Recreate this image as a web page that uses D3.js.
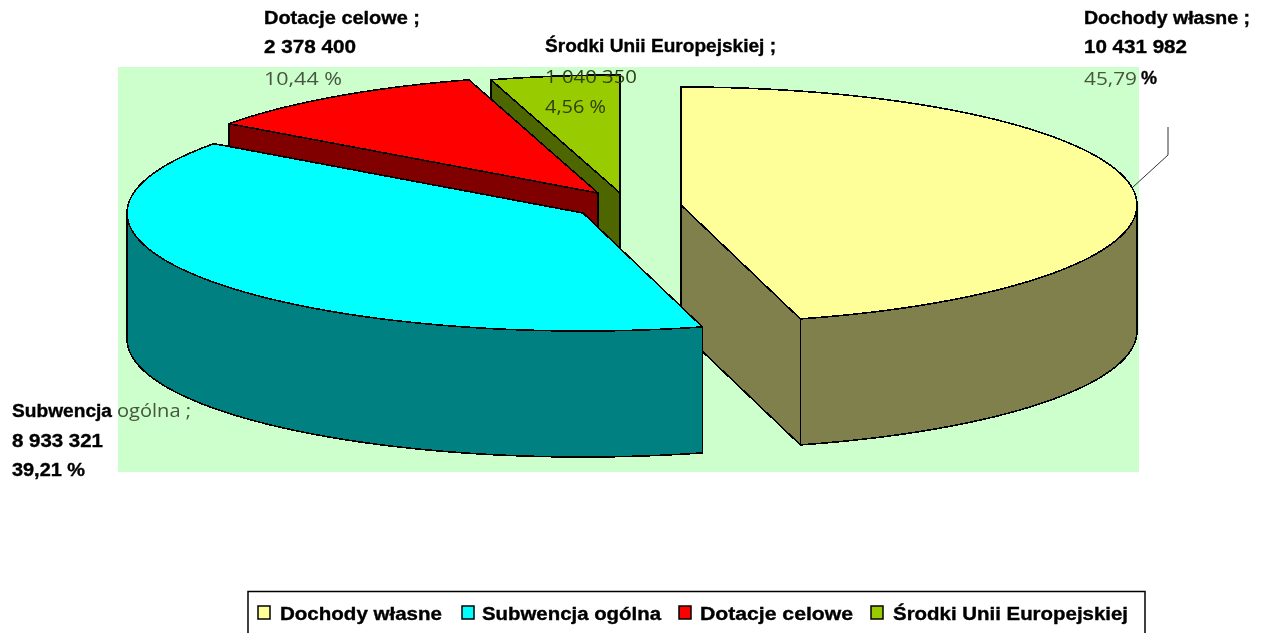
<!DOCTYPE html>
<html>
<head>
<meta charset="utf-8">
<script src="https://cdnjs.cloudflare.com/ajax/libs/d3/7.8.5/d3.min.js"></script>
<style>
html, body { margin: 0; padding: 0; background: #fff; overflow: hidden; }
svg { display: block; }
.heavy { font-family: "Liberation Sans", sans-serif; font-weight: bold; font-size: 18px; fill: #000; stroke: #000; stroke-width: 0.35px; }
.thin { font-family: "Open Sans", sans-serif; font-size: 18px; fill: #46563f; }
.dark { font-family: "Open Sans", sans-serif; font-size: 18px; fill: #2f3f10; }
</style>
</head>
<body>
<div id="chart-area"></div>
<script>
var categories = ["Dochody własne", "Subwencja ogólna", "Dotacje celowe", "Środki Unii Europejskiej"];
var values = [10431982, 8933321, 2378400, 1040350];
var percentLabels = ["45,79", "39,21", "10,44", "4,56"];

var topColors = ["#FFFF99", "#00FFFF", "#FF0000", "#99CC00"];
var sideColors = ["#80804D", "#008080", "#800000", "#4D6600"];
var sliceCenters = [[681, 205], [583, 213], [598, 193], [620, 193]];
var radiusX = 456, radiusY = 118, depth = 126;
var drawOrder = [3, 2, 0, 1];

var numberFormat = d3.formatLocale({ thousands: " ", grouping: [3], decimal: ",", currency: ["", ""] }).format(",d");

var svg = d3.select("#chart-area").append("svg").attr("width", 1264).attr("height", 633);

var defs = svg.append("defs");
defs.append("filter").attr("id", "soft").append("feGaussianBlur").attr("stdDeviation", 0.45);

var chart = svg.append("g").attr("filter", "url(#soft)");

chart.append("rect").attr("x", 118).attr("y", 67).attr("width", 1021).attr("height", 405).attr("fill", "#CCFFCC");

var pie = d3.pie().sort(null).startAngle(0).endAngle(2 * Math.PI);
var slices = pie(values);
var line = d3.line();

function rimPoint(center, angle, drop) {
    return [center[0] + radiusX * Math.sin(angle), center[1] - radiusY * Math.cos(angle) + drop];
}

function rim(center, a0, a1, drop) {
    return d3.range(0, 121).map(i => rimPoint(center, a0 + (a1 - a0) * i / 120, drop));
}

function drawFace(points, fill) {
    chart.append("path")
        .attr("d", line(points) + "Z")
        .attr("fill", fill)
        .attr("stroke", "#000")
        .attr("stroke-width", 1.6)
        .attr("stroke-linejoin", "round")
        .attr("shape-rendering", "crispEdges");
}

drawOrder.forEach(i => {
    var s = slices[i], c = sliceCenters[i];

    // cut face on the start edge, it only faces the viewer on the back slices
    if (s.startAngle > Math.PI * 1.5) {
        drawFace([c, rimPoint(c, s.startAngle, 0), rimPoint(c, s.startAngle, depth), [c[0], c[1] + depth]], sideColors[i]);
    }
    if (i === 0) {
        drawFace([c, rimPoint(c, s.endAngle, 0), rimPoint(c, s.endAngle, depth), [c[0], c[1] + depth]], sideColors[i]);
    }

    // outer wall, front half of the ellipse only
    var a0 = Math.max(s.startAngle, Math.PI / 2), a1 = Math.min(s.endAngle, Math.PI * 1.5);
    if (a1 > a0) {
        drawFace(rim(c, a0, a1, 0).concat(rim(c, a1, a0, depth)), sideColors[i]);
    }

    drawFace([c].concat(rim(c, s.startAngle, s.endAngle, 0)), topColors[i]);
});

// leader line of the first label
chart.append("path")
    .attr("d", line([[1168, 127], [1168, 155], [1133, 187]]))
    .attr("fill", "none")
    .attr("stroke", "#333")
    .attr("stroke-width", 1);

function label(str, x, y, width, cls) {
    chart.append("text")
        .attr("class", cls)
        .attr("x", x)
        .attr("y", y)
        .attr("textLength", width)
        .attr("lengthAdjust", "spacingAndGlyphs")
        .text(str);
}

// data labels
label(categories[0] + " ;", 1084, 24, 166, "heavy");
label(numberFormat(values[0]), 1084, 53, 103, "heavy");
label(percentLabels[0], 1084, 85, 53, "thin");
label("%", 1141, 84, 16, "heavy");

var subwencjaWords = categories[1].split(" ");
label(subwencjaWords[0], 12, 417, 100, "heavy");
label(subwencjaWords[1] + " ;", 117, 417, 74, "thin");
label(numberFormat(values[1]), 12, 447, 91, "heavy");
label(percentLabels[1] + " %", 12, 476, 73, "heavy");

label(categories[2] + " ;", 264, 24, 156, "heavy");
label(numberFormat(values[2]), 264, 53, 92, "heavy");
label(percentLabels[2] + "  %", 264, 85, 78, "thin");

label(categories[3] + " ;", 545, 52, 231, "heavy");
label(numberFormat(values[3]), 545, 83, 92, "dark");
label(percentLabels[3] + " %", 545, 113, 61, "dark");

// legend
var legendKeys = [258, 462, 679, 871];
var legendText = [[280, 162], [482, 179], [700, 153], [893, 235]];

chart.append("rect")
    .attr("x", 248).attr("y", 591.5).attr("width", 897).attr("height", 60)
    .attr("fill", "#fff").attr("stroke", "#000").attr("stroke-width", 1.5);

categories.forEach((name, i) => {
    chart.append("rect")
        .attr("x", legendKeys[i]).attr("y", 606).attr("width", 12).attr("height", 13)
        .attr("fill", topColors[i]).attr("stroke", "#000").attr("stroke-width", 1.5);
    label(name, legendText[i][0], 620, legendText[i][1], "heavy");
});
</script>
</body>
</html>
